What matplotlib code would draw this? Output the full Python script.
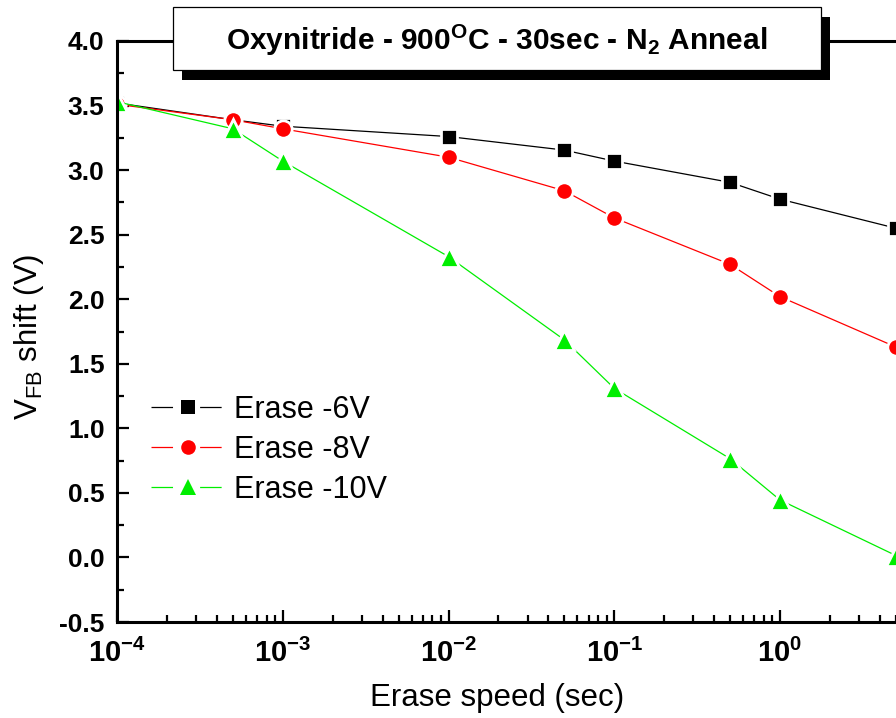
import math
import matplotlib
matplotlib.use("Agg")
import matplotlib.pyplot as plt
from matplotlib.patches import Rectangle
from matplotlib.lines import Line2D
from matplotlib.ticker import FixedLocator, FuncFormatter, LogLocator, MultipleLocator, NullFormatter

# Erase time (s) and flat-band voltage shift (V) for three erase voltages
erase_time = [1e-4, 5e-4, 1e-3, 1e-2, 5e-2, 1e-1, 5e-1, 1.0, 5.0]
shift_6v = [3.52, 3.39, 3.34, 3.26, 3.155, 3.07, 2.905, 2.775, 2.55]
shift_8v = [3.51, 3.39, 3.32, 3.10, 2.84, 2.63, 2.27, 2.02, 1.63]
shift_10v = [3.53, 3.32, 3.07, 2.33, 1.685, 1.31, 0.765, 0.445, 0.015]
series_labels = ["Erase -6V", "Erase -8V", "Erase -10V"]
x_major_ticks = [1e-4, 1e-3, 1e-2, 1e-1, 1e0]
y_major_ticks = [-0.5, 0.0, 0.5, 1.0, 1.5, 2.0, 2.5, 3.0, 3.5, 4.0]

plt.rcParams["font.family"] = ["Liberation Sans", "DejaVu Sans"]
plt.rcParams["axes.unicode_minus"] = False
plt.rcParams["mathtext.fontset"] = "custom"
plt.rcParams["mathtext.rm"] = "Liberation Sans"
plt.rcParams["mathtext.it"] = "Liberation Sans:italic"
plt.rcParams["mathtext.bf"] = "Liberation Sans:bold"
plt.rcParams["lines.scale_dashes"] = False

W, H = 896, 718
fig = plt.figure(figsize=(W / 100, H / 100), dpi=100)


def fx(x):
    return x / W


def fy(y):
    return 1 - y / H


# Axes extend past the right edge of the canvas
decade = (780 - 117) / 4.0
ax_left, ax_top, ax_bottom = 117, 41, 622
ax_width = 5 * decade
ax = fig.add_axes([fx(ax_left), fy(ax_bottom), ax_width / W, (ax_bottom - ax_top) / H])

styles = [
    dict(color="black", marker="s", ms=12.0),
    dict(color="#ff0000", marker="o", ms=12.5),
    dict(color="#00ee00", marker="^", ms=14.0),
]
handles = []
for yvals, st, lab in zip([shift_6v, shift_8v, shift_10v], styles, series_labels):
    ax.plot(erase_time, yvals, color=st["color"], lw=0.9, marker=st["marker"],
            ms=st["ms"], mfc=st["color"], mec="white", mew=2.0)
    seg = Line2D([], [], color=st["color"], lw=0.9, linestyle=(0, (15.5, 19.5)))
    mk = Line2D([], [], color=st["color"], lw=0, marker=st["marker"],
                ms=st["ms"] - 2.0, mfc=st["color"], mec=st["color"], mew=0)
    handles.append((seg, mk))

ax.set_xscale("log")
ax.set_xlim(1e-4, 1e1)
ax.set_ylim(-0.5, 4.0)

ax.xaxis.set_major_locator(FixedLocator(x_major_ticks))
ax.xaxis.set_minor_locator(LogLocator(base=10, subs=range(2, 10), numticks=20))
ax.xaxis.set_minor_formatter(NullFormatter())
ax.xaxis.set_major_formatter(FuncFormatter(
    lambda v, p: r"$\mathbf{10^{%d}}$" % round(math.log10(v))))
ax.yaxis.set_major_locator(FixedLocator(y_major_ticks))
ax.yaxis.set_minor_locator(MultipleLocator(0.25))
ax.yaxis.set_major_formatter(FuncFormatter(lambda v, p: "%.1f" % v))

ax.tick_params(which="both", direction="in", top=False, right=False, width=1.6)
ax.tick_params(which="major", length=8.5)
ax.tick_params(which="minor", length=5.0)
ax.tick_params(axis="y", which="major", pad=9, labelsize=19)
ax.tick_params(axis="x", which="major", pad=12, labelsize=21)
for lbl in ax.get_yticklabels():
    lbl.set_fontweight("bold")
for side in ["left", "bottom", "top"]:
    ax.spines[side].set_linewidth(2.2)
ax.spines["right"].set_visible(False)

leg = ax.legend(handles, series_labels, loc="upper left",
                bbox_to_anchor=(fx(151), fy(395)), bbox_transform=fig.transFigure,
                frameon=False, fontsize=22, handlelength=2.45, handletextpad=0.25,
                borderpad=0, borderaxespad=0, labelspacing=0.32)

# Axis titles
fig.text(fx(497), fy(706), "Erase speed (sec)", ha="center", va="baseline", fontsize=22.5)
fig.text(fx(29), fy(337), r"V$_{\mathrm{FB}}$ shift (V)", ha="center", va="center",
         rotation=90, fontsize=22.5)

# Title box with drop shadow over the top spine
fig.add_artist(Rectangle((fx(182), fy(80)), fx(830) - fx(182), fy(17) - fy(80),
                         transform=fig.transFigure, facecolor="black", edgecolor="none",
                         zorder=10))
fig.add_artist(Rectangle((fx(173), fy(70)), fx(821) - fx(173), fy(7) - fy(70),
                         transform=fig.transFigure, facecolor="white", edgecolor="black",
                         lw=0.9, zorder=11))
fig.text(fx(497), fy(50),
         r"Oxynitride - 900$^{\mathbf{O}}$C - 30sec - N$_{\mathbf{2}}$ Anneal",
         ha="center", va="baseline", fontsize=21.5, fontweight="bold", zorder=12)

fig.savefig("out.png", dpi=100)
